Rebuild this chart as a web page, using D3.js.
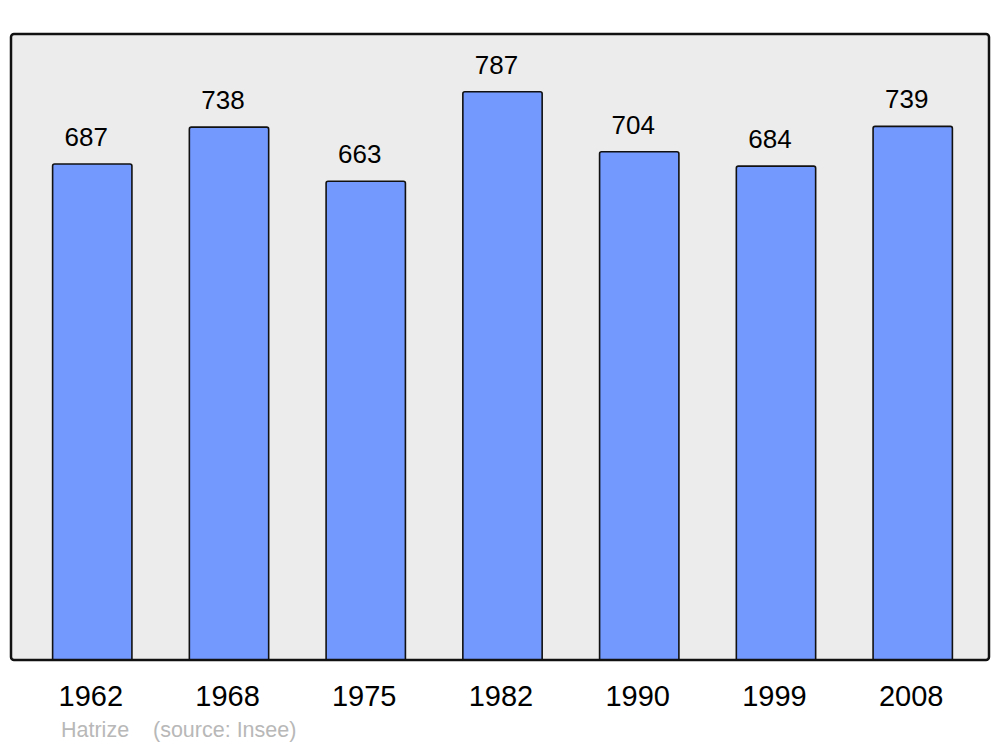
<!DOCTYPE html>
<html><head><meta charset="utf-8">
<script src="https://cdn.jsdelivr.net/npm/d3@7"></script>
<style>body{margin:0;background:#fff}svg{display:block}</style>
</head><body>
<svg id="c" width="1000" height="747"></svg>
<script>
const years = ["1962","1968","1975","1982","1990","1999","2008"];
const population = [687,738,663,787,704,684,739];
const author = "Hatrize";
const source = "(source: Insee)";

const svg = d3.select("#c");
const panel = {x0:11, x1:989, y0:34, y1:660};
const font = "Liberation Sans, Arial, sans-serif";

const x = d3.scaleBand().domain(years).range([13.5, 991.5]).paddingInner(0.42).paddingOuter(0.286);
const y = d3.scaleLinear().domain([0, 867]).range([panel.y1, panel.y0]);

svg.append("rect").attr("x",panel.x0).attr("y",panel.y0)
  .attr("width",panel.x1-panel.x0).attr("height",panel.y1-panel.y0)
  .attr("rx",3).attr("fill","#ececec").attr("stroke","none");

const g = svg.append("g");
years.forEach((yr,i)=>{
  const bx = x(yr), bw = x.bandwidth(), by = y(population[i]);
  const r = 2;
  const p = `M${bx},${panel.y1}V${by+r}Q${bx},${by} ${bx+r},${by}H${bx+bw-r}Q${bx+bw},${by} ${bx+bw},${by+r}V${panel.y1}`;
  g.append("path").attr("d",p+"Z").attr("fill","#7399ff").attr("stroke","none");
  g.append("path").attr("d",p).attr("fill","none").attr("stroke","#111").attr("stroke-width",1.6);
  g.append("text").attr("x",bx+bw/2-6).attr("y",by-18)
    .attr("text-anchor","middle").attr("font-family",font)
    .attr("font-size",26).attr("fill","#000").text(population[i]);
  svg.append("text").attr("x",bx+bw/2-1.5).attr("y",706)
    .attr("text-anchor","middle").attr("font-family",font)
    .attr("font-size",29).attr("fill","#000").text(yr);
});

svg.append("rect").attr("x",panel.x0).attr("y",panel.y0)
  .attr("width",panel.x1-panel.x0).attr("height",panel.y1-panel.y0)
  .attr("rx",3).attr("fill","none").attr("stroke","#111").attr("stroke-width",2.5);

svg.append("text").attr("x",61).attr("y",737).attr("font-family",font)
  .attr("font-size",21.5).attr("fill","#b8b8b8").text(author);
svg.append("text").attr("x",153).attr("y",737).attr("font-family",font)
  .attr("font-size",21.5).attr("fill","#b8b8b8").text(source);
</script>
</body></html>
